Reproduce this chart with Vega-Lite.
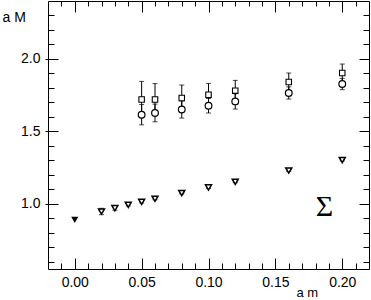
{
  "$schema": "https://vega.github.io/schema/vega-lite/v6.json",
  "width": 321,
  "height": 268,
  "autosize": {"type": "none"},
  "padding": {"left": 48, "top": 1, "right": 2, "bottom": 31},
  "background": "white",
  "config": {
    "view": {"stroke": "black", "strokeWidth": 1},
    "axis": {
      "domain": false, "grid": false, "tickColor": "black", "tickWidth": 1,
      "labelColor": "black", "labelFont": "Liberation Sans", "labelFontSize": 14,
      "titleFont": "Liberation Sans", "titleFontSize": 14, "titleColor": "black", "titleFontWeight": "normal"
    }
  },
  "datasets": {
    "squares": [
      {"am": 0.05, "aM": 1.72, "err": 0.125},
      {"am": 0.06, "aM": 1.72, "err": 0.11},
      {"am": 0.08, "aM": 1.73, "err": 0.09},
      {"am": 0.10, "aM": 1.753, "err": 0.078},
      {"am": 0.12, "aM": 1.781, "err": 0.071},
      {"am": 0.16, "aM": 1.841, "err": 0.062},
      {"am": 0.20, "aM": 1.903, "err": 0.062}
    ],
    "circles": [
      {"am": 0.05, "aM": 1.615, "err": 0.07},
      {"am": 0.06, "aM": 1.627, "err": 0.061},
      {"am": 0.08, "aM": 1.651, "err": 0.059},
      {"am": 0.10, "aM": 1.677, "err": 0.05},
      {"am": 0.12, "aM": 1.707, "err": 0.053},
      {"am": 0.16, "aM": 1.765, "err": 0.042},
      {"am": 0.20, "aM": 1.827, "err": 0.039}
    ],
    "triangles": [
      {"am": 0.02, "aM": 0.947, "err": 0.022},
      {"am": 0.03, "aM": 0.970, "err": 0.014},
      {"am": 0.04, "aM": 0.993, "err": 0.008},
      {"am": 0.05, "aM": 1.014, "err": 0.008},
      {"am": 0.06, "aM": 1.035, "err": 0.007},
      {"am": 0.08, "aM": 1.074, "err": 0.006},
      {"am": 0.10, "aM": 1.113, "err": 0.006},
      {"am": 0.12, "aM": 1.152, "err": 0.006},
      {"am": 0.16, "aM": 1.230, "err": 0.006},
      {"am": 0.20, "aM": 1.302, "err": 0.006}
    ],
    "chiral": [{"am": 0.0, "aM": 0.889}],
    "label": [{"am": 0.1867, "aM": 0.917, "text": "Σ"}]
  },
  "resolve": {"axis": {"x": "independent", "y": "independent"}},
  "layer": [
    {
      "data": {"name": "circles"},
      "mark": {"type": "errorbar", "color": "black", "thickness": 1, "ticks": {"size": 5, "color": "black", "thickness": 1}},
      "encoding": {
        "x": {"field": "am", "type": "quantitative", "scale": {"domain": [-0.02, 0.22], "nice": false, "zero": false}, "axis": null},
        "y": {"field": "aM", "type": "quantitative", "scale": {"domain": [0.55, 2.4], "nice": false, "zero": false}, "axis": null},
        "yError": {"field": "err"}
      }
    },
    {
      "data": {"name": "squares"},
      "mark": {"type": "errorbar", "color": "black", "thickness": 1, "ticks": {"size": 5, "color": "black", "thickness": 1}},
      "encoding": {
        "x": {"field": "am", "type": "quantitative", "scale": {"domain": [-0.02, 0.22], "nice": false, "zero": false}, "axis": null},
        "y": {"field": "aM", "type": "quantitative", "scale": {"domain": [0.55, 2.4], "nice": false, "zero": false}, "axis": null},
        "yError": {"field": "err"}
      }
    },
    {
      "data": {"name": "triangles"},
      "mark": {"type": "errorbar", "color": "black", "thickness": 1, "ticks": {"size": 5, "color": "black", "thickness": 1}},
      "encoding": {
        "x": {"field": "am", "type": "quantitative", "scale": {"domain": [-0.02, 0.22], "nice": false, "zero": false}, "axis": null},
        "y": {"field": "aM", "type": "quantitative", "scale": {"domain": [0.55, 2.4], "nice": false, "zero": false}, "axis": null},
        "yError": {"field": "err"}
      }
    },
    {
      "data": {"name": "circles"},
      "mark": {"type": "point", "shape": "circle", "size": 45, "filled": false, "fill": "white", "fillOpacity": 1, "stroke": "black", "strokeWidth": 1.2, "opacity": 1},
      "encoding": {
        "x": {"field": "am", "type": "quantitative", "scale": {"domain": [-0.02, 0.22], "nice": false, "zero": false},
          "axis": {"orient": "bottom", "values": [0, 0.05, 0.1, 0.15, 0.2], "format": ".2f", "ticks": false, "tickSize": 0, "labelPadding": 6,
            "title": "a m", "titleFontSize": 13, "titleAlign": "left", "titleBaseline": "alphabetic", "titleX": 248, "titleY": 27, "titleAnchor": "start"}},
        "y": {"field": "aM", "type": "quantitative", "scale": {"domain": [0.55, 2.4], "nice": false, "zero": false},
          "axis": {"orient": "left", "values": [1, 1.5, 2], "format": ".1f", "ticks": true, "tickSize": 3, "labelPadding": 5,
            "title": "a M", "titleAngle": 0, "titleAlign": "left", "titleBaseline": "alphabetic", "titleX": -46, "titleY": 20, "titleAnchor": "start"}}
      }
    },
    {
      "data": {"name": "squares"},
      "mark": {"type": "point", "shape": "square", "size": 30, "filled": false, "fill": "white", "fillOpacity": 1, "stroke": "black", "strokeWidth": 1.1, "opacity": 1},
      "encoding": {
        "x": {"field": "am", "type": "quantitative", "scale": {"domain": [-0.02, 0.22], "nice": false, "zero": false},
          "axis": {"orient": "bottom", "values": [0, 0.05, 0.1, 0.15, 0.2], "labels": false, "ticks": true, "tickSize": 11, "offset": -11, "title": null}},
        "y": {"field": "aM", "type": "quantitative", "scale": {"domain": [0.55, 2.4], "nice": false, "zero": false},
          "axis": {"orient": "left", "values": [1, 1.5, 2], "labels": false, "ticks": true, "tickSize": 10, "offset": -10, "title": null}}
      }
    },
    {
      "data": {"name": "triangles"},
      "mark": {"type": "point", "shape": "triangle-down", "size": 36, "filled": false, "fill": "white", "fillOpacity": 1, "stroke": "black", "strokeWidth": 1.5, "opacity": 1},
      "encoding": {
        "x": {"field": "am", "type": "quantitative", "scale": {"domain": [-0.02, 0.22], "nice": false, "zero": false},
          "axis": {"orient": "bottom", "values": [-0.01, 0.01, 0.02, 0.03, 0.04, 0.06, 0.07, 0.08, 0.09, 0.11, 0.12, 0.13, 0.14, 0.16, 0.17, 0.18, 0.19, 0.21], "labels": false, "ticks": true, "tickSize": 6, "offset": -6, "title": null}},
        "y": {"field": "aM", "type": "quantitative", "scale": {"domain": [0.55, 2.4], "nice": false, "zero": false},
          "axis": {"orient": "left", "values": [0.6, 0.7, 0.8, 0.9, 1.1, 1.2, 1.3, 1.4, 1.6, 1.7, 1.8, 1.9, 2.1, 2.2, 2.3], "labels": false, "ticks": true, "tickSize": 6, "offset": -6, "title": null}}
      }
    },
    {
      "data": {"name": "chiral"},
      "mark": {"type": "point", "shape": "triangle-down", "size": 50, "filled": true, "color": "black", "opacity": 1},
      "encoding": {
        "x": {"field": "am", "type": "quantitative", "scale": {"domain": [-0.02, 0.22], "nice": false, "zero": false},
          "axis": {"orient": "top", "values": [0, 0.05, 0.1, 0.15, 0.2], "labels": false, "ticks": true, "tickSize": 11, "offset": -11, "title": null}},
        "y": {"field": "aM", "type": "quantitative", "scale": {"domain": [0.55, 2.4], "nice": false, "zero": false},
          "axis": {"orient": "right", "values": [1, 1.5, 2], "labels": false, "ticks": true, "tickSize": 10, "offset": -10, "title": null}}
      }
    },
    {
      "data": {"name": "label"},
      "mark": {"type": "text", "font": "Liberation Serif", "fontSize": 30, "color": "black", "align": "center", "baseline": "alphabetic"},
      "encoding": {
        "x": {"field": "am", "type": "quantitative", "scale": {"domain": [-0.02, 0.22], "nice": false, "zero": false},
          "axis": {"orient": "top", "values": [-0.01, 0.01, 0.02, 0.03, 0.04, 0.06, 0.07, 0.08, 0.09, 0.11, 0.12, 0.13, 0.14, 0.16, 0.17, 0.18, 0.19, 0.21], "labels": false, "ticks": true, "tickSize": 5, "offset": -5, "title": null}},
        "y": {"field": "aM", "type": "quantitative", "scale": {"domain": [0.55, 2.4], "nice": false, "zero": false},
          "axis": {"orient": "right", "values": [0.6, 0.7, 0.8, 0.9, 1.1, 1.2, 1.3, 1.4, 1.6, 1.7, 1.8, 1.9, 2.1, 2.2, 2.3], "labels": false, "ticks": true, "tickSize": 6, "offset": -6, "title": null}},
        "text": {"field": "text"}
      }
    }
  ]
}
